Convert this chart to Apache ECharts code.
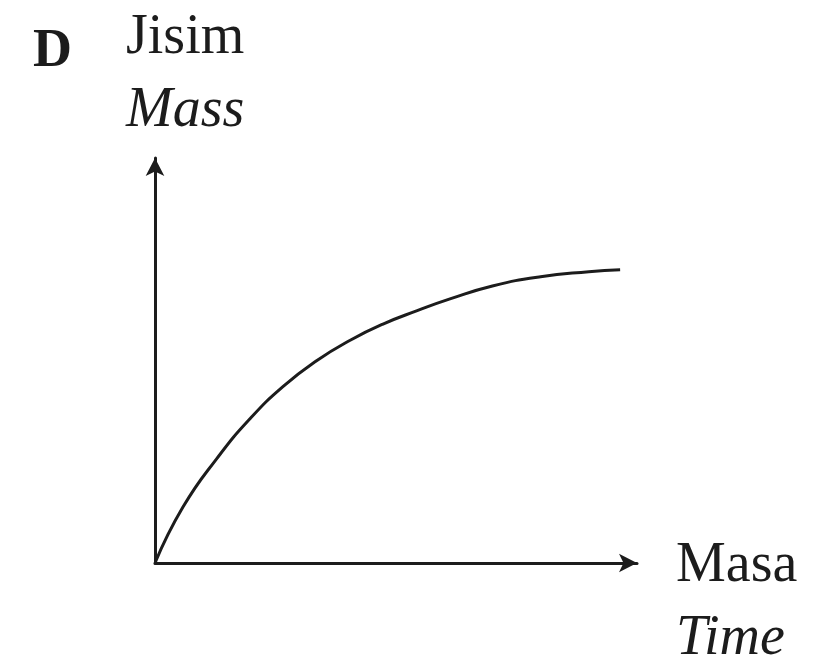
<!DOCTYPE html>
<html>
<head>
<meta charset="utf-8">
<script src="https://cdn.jsdelivr.net/npm/echarts@6/dist/echarts.min.js"></script>
<style>
  html, body { margin: 0; padding: 0; background: #fff; }
  #chart { width: 813px; height: 661px; }
</style>
</head>
<body>
<div id="chart"></div>
<script>
// curve (axis units 0..100, no scale drawn)
const timeValues = [0, 5.8, 12.9, 19.7, 26.6, 33.6, 40.5, 47.3, 54.4, 61.2, 70.0, 80.0, 90.0, 96.5];
const massValues = [0, 13.8, 25.9, 35.6, 43.6, 50.0, 55.0, 59.0, 62.3, 65.2, 68.4, 70.7, 71.9, 72.4];

const ink = '#1c1c1c';
const serif = '"Liberation Serif", "DejaVu Serif", serif';

const chart = echarts.init(document.getElementById('chart'), null, { renderer: 'canvas' });

const axisCommon = {
    type: 'value',
    min: 0,
    max: 100,
    axisTick: { show: false },
    axisLabel: { show: false },
    splitLine: { show: false },
    axisLine: {
        show: true,
        symbol: ['none', 'arrow'],
        symbolSize: [14, 18],
        lineStyle: { color: ink, width: 3 }
    }
};

const option = {
    backgroundColor: '#ffffff',
    animation: false,
    grid: { left: 155, right: 176, top: 158, bottom: 98 },
    xAxis: Object.assign({}, axisCommon),
    yAxis: Object.assign({}, axisCommon),
    series: [{
        type: 'line',
        data: timeValues.map((t, i) => [t, massValues[i]]),
        smooth: 0.5,
        showSymbol: false,
        lineStyle: { color: ink, width: 3 }
    }],
    graphic: [
        { type: 'text', style: { text: 'D', x: 33, y: 52, font: 'bold 54px ' + serif, fill: ink, textVerticalAlign: 'middle' } },
        { type: 'text', style: { text: 'Jisim', x: 126, y: 38, font: '56px ' + serif, fill: ink, textVerticalAlign: 'middle' } },
        { type: 'text', style: { text: 'Mass', x: 126, y: 111, font: 'italic 56px ' + serif, fill: ink, textVerticalAlign: 'middle' } },
        { type: 'text', style: { text: 'Masa', x: 676, y: 566, font: '56px ' + serif, fill: ink, textVerticalAlign: 'middle' } },
        { type: 'text', style: { text: 'Time', x: 676, y: 639, font: 'italic 56px ' + serif, fill: ink, textVerticalAlign: 'middle' } }
    ]
};

chart.setOption(option);
</script>
</body>
</html>
